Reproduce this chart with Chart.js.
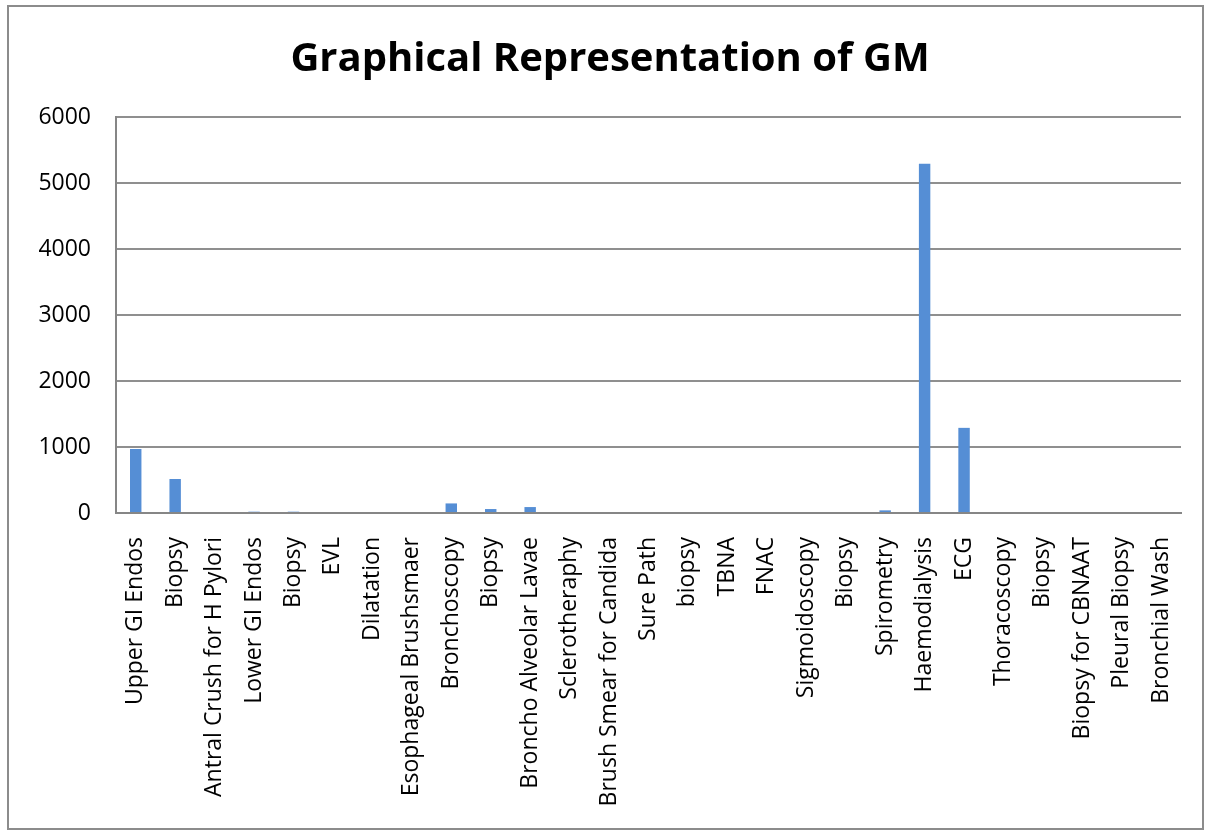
<!DOCTYPE html>
<html>
<head>
<meta charset="utf-8">
<title>Graphical Representation of GM</title>
<script src="https://cdn.jsdelivr.net/npm/chart.js@4.4.0/dist/chart.umd.min.js"></script>
<style>
  body { margin: 0; background: #fff; }
  #box {
    position: absolute;
    left: 7px;
    top: 5px;
    width: 1193px;
    height: 821px;
    border: 2px solid #8c8c8c;
    background: #fff;
  }
</style>
</head>
<body>
<div id="box">
  <canvas id="barChart" width="1193" height="821"></canvas>
</div>
<script>
var categories = [
  'Upper GI Endos', 'Biopsy', 'Antral Crush for H Pylori', 'Lower GI Endos', 'Biopsy',
  'EVL', 'Dilatation', 'Esophageal Brushsmaer', 'Bronchoscopy', 'Biopsy',
  'Broncho Alveolar Lavae', 'Sclerotheraphy', 'Brush Smear for Candida', 'Sure Path', 'biopsy',
  'TBNA', 'FNAC', 'Sigmoidoscopy', 'Biopsy', 'Spirometry',
  'Haemodialysis', 'ECG', 'Thoracoscopy', 'Biopsy', 'Biopsy for CBNAAT',
  'Pleural Biopsy', 'Bronchial Wash'
];

var gmValues = [
  970, 515, 0, 20, 20,
  0, 0, 0, 145, 60,
  90, 0, 0, 0, 0,
  0, 0, 0, 0, 40,
  5290, 1290, 15, 0, 0,
  0, 0
];

var yTicks = [0, 1000, 2000, 3000, 4000, 5000, 6000];

var barChartCanvas = document.getElementById('barChart').getContext('2d');

var barChartData = {
  labels: categories,
  datasets: [
    {
      label: 'GM',
      backgroundColor: '#558ed5',
      borderWidth: 0,
      categoryPercentage: 1,
      barPercentage: 0.29,
      data: gmValues
    }
  ]
};

var barChartOptions = {
  responsive: false,
  animation: false,
  layout: {
    padding: { left: 30, right: 21, top: 0, bottom: 0 }
  },
  plugins: {
    legend: { display: false },
    tooltip: { enabled: false },
    title: {
      display: true,
      text: 'Graphical Representation of GM',
      color: '#000',
      font: { family: 'Open Sans', size: 40, weight: 'bold', lineHeight: 1.2 },
      padding: { top: 29, bottom: 33 }
    }
  },
  scales: {
    x: {
      grid: { display: false, drawTicks: false },
      border: { display: true, color: '#868686', width: 2 },
      ticks: {
        autoSkip: false,
        minRotation: 90,
        maxRotation: 90,
        padding: 24,
        color: '#000',
        font: { family: 'Open Sans', size: 23 }
      },
      afterFit: function (scale) {
        // keep the plot edges where the original has them
        scale.height = 315;
        scale.paddingLeft = 0;
        scale.paddingRight = 0;
      }
    },
    y: {
      min: 0,
      max: 6000,
      afterBuildTicks: function (scale) {
        scale.ticks = yTicks.map(function (v) { return { value: v }; });
      },
      grid: { color: '#8f8f8f', lineWidth: 2, drawTicks: false },
      border: { display: true, color: '#868686', width: 2 },
      ticks: {
        padding: 25,
        color: '#000',
        font: { family: 'Open Sans', size: 23 },
        callback: function (value) { return String(value); }
      },
      afterFit: function (scale) {
        scale.width = 77;
      }
    }
  }
};

new Chart(barChartCanvas, {
  type: 'bar',
  data: barChartData,
  options: barChartOptions
});
</script>
</body>
</html>
